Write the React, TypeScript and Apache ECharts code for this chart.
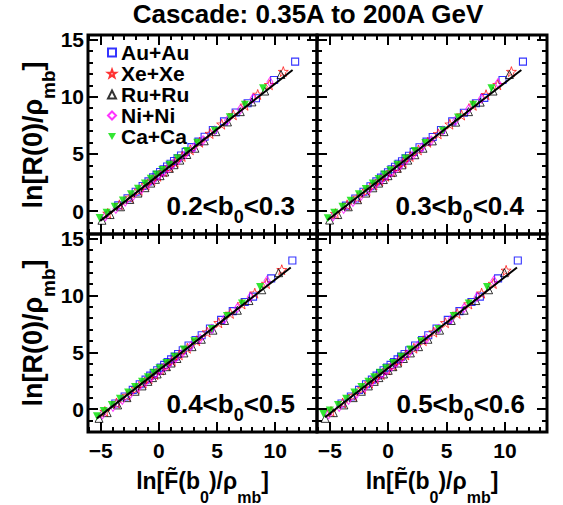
import React, { useEffect, useRef } from 'react';
import * as echarts from 'echarts';

const FONT = '"Liberation Sans", Arial, Helvetica, sans-serif';

const systems = ['Au+Au', 'Xe+Xe', 'Ru+Ru', 'Ni+Ni', 'Ca+Ca'];
const bRanges = [['0.2', '0.3'], ['0.3', '0.4'], ['0.4', '0.5'], ['0.5', '0.6']];

const xMajorTicks = [-5, 0, 5, 10];
const xMinorTicks = [-6, -4, -3, -2, -1, 1, 2, 3, 4, 6, 7, 8, 9, 11, 12, 13];
const yMajorTicks = [0, 5, 10, 15];
const yMinorTicks = [-1, 1, 2, 3, 4, 6, 7, 8, 9, 11, 12, 13, 14];
const X_MIN = -6.1, X_MAX = 13.6, Y_MIN = -2, Y_MAX = 15.4;

// Panel 1: 0.2<b0<0.3
const p1Au = [[-3.5,0.5],[-2.7,1.12],[-2.0,1.7],[-1.4,2.2],[-0.9,2.6],[-0.5,2.95],[-0.2,3.18],[0.1,3.42],[0.4,3.66],[0.7,3.9],[1.0,4.14],[1.3,4.38],[1.6,4.62],[1.9,4.86],[2.3,5.18],[2.8,5.6],[3.4,6.08],[3.93,6.5],[4.64,7.1],[5.6,7.85],[6.6,8.62],[7.63,9.43],[8.35,9.87],[9.91,11.47],[11.72,13.07]];
const p1Xe = [[-4.4,-0.2],[-3.4,0.55],[-2.5,1.2],[-1.7,1.82],[-1.1,2.3],[-0.6,2.68],[-0.1,3.05],[0.4,3.45],[0.9,3.85],[1.4,4.27],[2.0,4.78],[2.7,5.36],[3.5,6.02],[4.4,6.78],[5.4,7.6],[6.4,8.42],[7.4,9.25],[8.5,10.2],[9.5,11.05],[10.7,12.2]];
const p1Ru = [[-4.9,-0.8],[-4.2,-0.3],[-3.3,0.38],[-2.5,1.02],[-1.8,1.58],[-1.2,2.05],[-0.7,2.45],[-0.3,2.78],[0.1,3.1],[0.5,3.42],[0.9,3.74],[1.3,4.06],[1.8,4.46],[2.4,4.95],[3.1,5.5],[3.9,6.15],[4.9,6.95],[5.9,7.8],[7.0,8.7],[8.0,9.55],[9.1,10.5],[10.5,11.95]];
const p1Ni = [[-4.6,-0.45],[-3.7,0.2],[-2.9,0.82],[-2.2,1.36],[-1.5,1.92],[-0.9,2.4],[-0.4,2.8],[0.0,3.12],[0.4,3.44],[0.8,3.76],[1.2,4.08],[1.7,4.5],[2.3,4.98],[3.0,5.55],[3.8,6.2],[4.8,7.05],[5.9,7.95],[7.0,8.9],[8.1,9.85],[9.55,11.3]];
const p1Ca = [[-5.1,-0.6],[-4.5,-0.15],[-3.8,0.38],[-3.1,0.92],[-2.4,1.48],[-1.8,1.95],[-1.2,2.42],[-0.7,2.82],[-0.2,3.2],[0.3,3.6],[0.9,4.06],[1.6,4.62],[2.4,5.25],[3.3,5.98],[4.8,7.05],[6.1,8.2],[7.4,9.3],[8.96,10.75]];
const p1Fit = [[-5.05,-0.85],[11.5,12.34]];

// Panel 2: 0.3<b0<0.4
const p2Au = [[-3.62,0.48],[-2.82,1.1],[-2.12,1.7],[-1.52,2.18],[-1.02,2.6],[-0.62,2.93],[-0.32,3.18],[-0.02,3.4],[0.28,3.66],[0.58,3.88],[0.88,4.14],[1.18,4.36],[1.48,4.62],[1.78,4.84],[2.18,5.18],[2.68,5.58],[3.28,6.08],[3.81,6.48],[4.52,7.1],[5.48,7.85],[6.48,8.6],[7.51,9.43],[8.23,9.9],[9.79,11.47],[11.54,13.07]];
const p2Xe = [[-4.52,-0.22],[-3.52,0.55],[-2.62,1.2],[-1.82,1.8],[-1.22,2.3],[-0.72,2.66],[-0.22,3.05],[0.28,3.44],[0.78,3.85],[1.28,4.25],[1.88,4.78],[2.58,5.35],[3.38,6.02],[4.28,6.76],[5.28,7.6],[6.28,8.4],[7.28,9.25],[8.38,10.18],[9.38,11.05],[10.55,12.2]];
const p2Ru = [[-5.02,-0.78],[-4.32,-0.3],[-3.42,0.38],[-2.62,1.0],[-1.92,1.58],[-1.32,2.04],[-0.82,2.45],[-0.42,2.76],[-0.02,3.1],[0.38,3.4],[0.78,3.74],[1.18,4.05],[1.68,4.46],[2.28,4.93],[2.98,5.5],[3.78,6.14],[4.78,6.95],[5.78,7.78],[6.88,8.7],[7.88,9.53],[8.98,10.5],[10.38,11.95]];
const p2Ni = [[-4.72,-0.45],[-3.82,0.2],[-3.02,0.8],[-2.32,1.36],[-1.62,1.9],[-1.02,2.4],[-0.52,2.78],[-0.12,3.12],[0.28,3.42],[0.68,3.76],[1.08,4.06],[1.58,4.5],[2.18,4.96],[2.88,5.55],[3.68,6.18],[4.68,7.05],[5.78,7.93],[6.88,8.9],[7.98,9.83],[9.4,11.2]];
const p2Ca = [[-5.18,-0.62],[-4.62,-0.15],[-3.92,0.38],[-3.22,0.9],[-2.52,1.48],[-1.92,1.94],[-1.32,2.42],[-0.82,2.8],[-0.32,3.2],[0.18,3.58],[0.78,4.06],[1.48,4.6],[2.28,5.25],[3.18,5.96],[4.68,7.05],[5.98,8.18],[7.28,9.3],[8.84,10.75]];
const p2Fit = [[-5.18,-0.77],[11.4,12.34]];

// Panel 3: 0.4<b0<0.5
const p3Au = [[-3.75,0.5],[-2.95,1.12],[-2.25,1.7],[-1.65,2.2],[-1.15,2.6],[-0.75,2.95],[-0.45,3.18],[-0.15,3.42],[0.15,3.66],[0.45,3.9],[0.75,4.14],[1.05,4.38],[1.35,4.62],[1.65,4.86],[2.05,5.18],[2.55,5.6],[3.15,6.08],[3.68,6.5],[4.39,7.1],[5.35,7.85],[6.35,8.62],[7.38,9.43],[8.1,9.9],[9.66,11.5],[11.48,13.07]];
const p3Xe = [[-4.65,-0.2],[-3.65,0.55],[-2.75,1.2],[-1.95,1.82],[-1.35,2.3],[-0.85,2.68],[-0.35,3.05],[0.15,3.45],[0.65,3.85],[1.15,4.27],[1.75,4.78],[2.45,5.36],[3.25,6.02],[4.15,6.78],[5.15,7.6],[6.15,8.42],[7.15,9.25],[8.25,10.2],[9.25,11.05],[10.57,12.26]];
const p3Ru = [[-5.15,-0.8],[-4.45,-0.3],[-3.55,0.38],[-2.75,1.02],[-2.05,1.58],[-1.45,2.05],[-0.95,2.45],[-0.55,2.78],[-0.15,3.1],[0.25,3.42],[0.65,3.74],[1.05,4.06],[1.55,4.46],[2.15,4.95],[2.85,5.5],[3.65,6.15],[4.65,6.95],[5.65,7.8],[6.75,8.7],[7.75,9.55],[8.85,10.5],[10.3,12.0]];
const p3Ni = [[-4.85,-0.45],[-3.95,0.2],[-3.15,0.82],[-2.45,1.36],[-1.75,1.92],[-1.15,2.4],[-0.65,2.8],[-0.25,3.12],[0.15,3.44],[0.55,3.76],[0.95,4.08],[1.45,4.5],[2.05,4.98],[2.75,5.55],[3.55,6.2],[4.55,7.05],[5.65,7.95],[6.75,8.9],[7.85,9.85],[9.3,11.3]];
const p3Ca = [[-5.33,-0.62],[-4.75,-0.15],[-4.05,0.38],[-3.35,0.92],[-2.65,1.48],[-2.05,1.95],[-1.45,2.42],[-0.95,2.82],[-0.45,3.2],[0.05,3.6],[0.65,4.06],[1.35,4.62],[2.15,5.25],[3.05,5.98],[4.55,7.05],[5.85,8.2],[7.15,9.3],[8.7,10.75]];
const p3Fit = [[-5.33,-0.8],[11.34,12.46]];

// Panel 4: 0.5<b0<0.6
const p4Au = [[-4.0,0.5],[-3.2,1.12],[-2.5,1.7],[-1.9,2.2],[-1.4,2.6],[-1.0,2.95],[-0.7,3.18],[-0.4,3.42],[-0.1,3.66],[0.2,3.9],[0.5,4.14],[0.8,4.38],[1.1,4.62],[1.4,4.86],[1.8,5.18],[2.3,5.6],[2.9,6.08],[3.43,6.5],[4.14,7.1],[5.1,7.85],[6.1,8.62],[7.13,9.43],[7.85,9.9],[9.41,11.5],[11.1,13.07]];
const p4Xe = [[-4.9,-0.2],[-3.9,0.55],[-3.0,1.2],[-2.2,1.82],[-1.6,2.3],[-1.1,2.68],[-0.6,3.05],[-0.1,3.45],[0.4,3.85],[0.9,4.27],[1.5,4.78],[2.2,5.36],[3.0,6.02],[3.9,6.78],[4.9,7.6],[5.9,8.42],[6.9,9.25],[8.0,10.2],[9.0,11.05],[10.1,12.2]];
const p4Ru = [[-5.4,-0.8],[-4.7,-0.3],[-3.8,0.38],[-3.0,1.02],[-2.3,1.58],[-1.7,2.05],[-1.2,2.45],[-0.8,2.78],[-0.4,3.1],[0.0,3.42],[0.4,3.74],[0.8,4.06],[1.3,4.46],[1.9,4.95],[2.6,5.5],[3.4,6.15],[4.4,6.95],[5.4,7.8],[6.5,8.7],[7.5,9.55],[8.6,10.5],[9.95,12.0]];
const p4Ni = [[-5.1,-0.45],[-4.2,0.2],[-3.4,0.82],[-2.7,1.36],[-2.0,1.92],[-1.4,2.4],[-0.9,2.8],[-0.5,3.12],[-0.1,3.44],[0.3,3.76],[0.7,4.08],[1.2,4.5],[1.8,4.98],[2.5,5.55],[3.3,6.2],[4.3,7.05],[5.4,7.95],[6.5,8.9],[7.6,9.85],[9.05,11.3]];
const p4Ca = [[-5.55,-0.42],[-5.0,-0.1],[-4.3,0.38],[-3.6,0.92],[-2.9,1.48],[-2.3,1.95],[-1.7,2.42],[-1.2,2.82],[-0.7,3.2],[-0.2,3.6],[0.4,4.06],[1.1,4.62],[1.9,5.25],[2.8,5.98],[4.3,7.05],[5.6,8.2],[6.9,9.3],[8.46,10.75]];
const p4Fit = [[-5.41,-0.71],[11.03,12.46]];

const panelData = [
  [p1Au, p1Xe, p1Ru, p1Ni, p1Ca],
  [p2Au, p2Xe, p2Ru, p2Ni, p2Ca],
  [p3Au, p3Xe, p3Ru, p3Ni, p3Ca],
  [p4Au, p4Xe, p4Ru, p4Ni, p4Ca],
];
const panelFits = [p1Fit, p2Fit, p3Fit, p4Fit];

// ---------- styles / layout ----------
const STAR = 'path://M0,-10L2.35,-3.24L9.51,-3.09L3.8,1.24L5.88,8.09L0,4L-5.88,8.09L-3.8,1.24L-9.51,-3.09L-2.35,-3.24Z';
const INV_TRI = 'path://M-5,-4.3L5,-4.3L0,4.3Z';
const markerStyles: any[] = [
  { symbol: 'rect', size: 7, color: '#0000ff', filled: false, bw: 1.1 },
  { symbol: STAR, size: 10, color: '#ff0000', filled: false, bw: 0.9 },
  { symbol: 'triangle', size: 8, color: '#000000', filled: false, bw: 1 },
  { symbol: 'diamond', size: [6, 9], color: '#ff00ff', filled: false, bw: 1 },
  { symbol: INV_TRI, size: 8, color: '#00e000', filled: true, bw: 0 },
];
const gridRects = [
  { left: 88, top: 35, width: 229, height: 199 },
  { left: 317, top: 35, width: 230, height: 199 },
  { left: 88, top: 234, width: 229, height: 198 },
  { left: 317, top: 234, width: 230, height: 198 },
];

const fmt = (v: number) => (v < 0 ? '\u2212' + Math.abs(v) : String(v));

function makeAxis(kind: 'x' | 'y', g: number, pos: string, major: boolean, label: boolean) {
  const isX = kind === 'x';
  const maj = isX ? xMajorTicks : yMajorTicks;
  const min = isX ? xMinorTicks : yMinorTicks;
  return {
    type: 'value',
    gridIndex: g,
    position: pos,
    min: isX ? X_MIN : Y_MIN,
    max: isX ? X_MAX : Y_MAX,
    axisLine: { show: false, onZero: false },
    splitLine: { show: false },
    axisTick: {
      show: true,
      inside: true,
      length: major ? 10 : 5,
      customValues: major ? maj : min,
      lineStyle: { color: '#000', width: 2 },
    },
    axisLabel: label
      ? {
          show: true,
          customValues: maj,
          formatter: fmt,
          fontSize: 21,
          fontWeight: 'bold',
          fontFamily: FONT,
          color: '#000',
          margin: isX ? 8 : 4,
          padding: isX ? 0 : [10, 0, 0, 0],
        }
      : { show: false },
  };
}

export default function App() {
  const ref = useRef<HTMLDivElement>(null);
  useEffect(() => {
    if (!ref.current) return;
    const chart = echarts.init(ref.current, undefined, { renderer: 'svg' });

    const xAxes: any[] = [];
    const yAxes: any[] = [];
    const series: any[] = [];
    for (let g = 0; g < 4; g++) {
      xAxes.push(makeAxis('x', g, 'bottom', true, g >= 2));
      xAxes.push(makeAxis('x', g, 'bottom', false, false));
      xAxes.push(makeAxis('x', g, 'top', true, false));
      xAxes.push(makeAxis('x', g, 'top', false, false));
      yAxes.push(makeAxis('y', g, 'left', true, g % 2 === 0));
      yAxes.push(makeAxis('y', g, 'left', false, false));
      yAxes.push(makeAxis('y', g, 'right', true, false));
      yAxes.push(makeAxis('y', g, 'right', false, false));

      systems.forEach((name, s) => {
        const st = markerStyles[s];
        series.push({
          type: 'scatter',
          name,
          xAxisIndex: g * 4,
          yAxisIndex: g * 4,
          data: panelData[g][s],
          symbol: st.symbol,
          symbolSize: st.size,
          itemStyle: st.filled
            ? { color: st.color }
            : { color: 'rgba(0,0,0,0)', borderColor: st.color, borderWidth: st.bw },
          z: 3,
          silent: true,
        });
      });
      series.push({
        type: 'line',
        xAxisIndex: g * 4,
        yAxisIndex: g * 4,
        data: panelFits[g],
        symbol: 'none',
        lineStyle: { color: '#000', width: 2 },
        z: 5,
        silent: true,
      });
    }

    const mainRich = (size: number, lh: number) => ({
      fontSize: size, fontWeight: 'bold', fontFamily: FONT, fill: '#000', lineHeight: lh, verticalAlign: 'top',
    });
    const subRich = (size: number, pad: number) => ({
      fontSize: size, fontWeight: 'bold', fontFamily: FONT, fill: '#000', lineHeight: size, verticalAlign: 'top', padding: [pad, 0, 0, 0],
    });

    const labelPos = [
      { x: 295, y: 206.5 },
      { x: 524, y: 206.5 },
      { x: 295, y: 404.5 },
      { x: 525, y: 404.5 },
    ];
    const graphics: any[] = [
      {
        type: 'text', x: 308, y: 14,
        style: { text: 'Cascade: 0.35A to 200A GeV', fontSize: 26, fontWeight: 'bold', fontFamily: FONT, fill: '#000', align: 'center', verticalAlign: 'middle' },
      },
    ];
    bRanges.forEach((r, g) => {
      graphics.push({
        type: 'text', x: labelPos[g].x, y: labelPos[g].y,
        style: {
          text: `{a|${r[0]}<b}{s|0}{a|<${r[1]}}`,
          align: 'right', verticalAlign: 'middle',
          rich: { a: mainRich(26, 28), s: subRich(18, 15) },
        },
      });
    });
    [135, 333].forEach((cy) => {
      graphics.push({
        type: 'text', x: 33, y: cy, rotation: Math.PI / 2,
        style: {
          text: '{a|ln[R(0)/\u03c1}{s|mb}{a|]}',
          align: 'center', verticalAlign: 'middle',
          rich: { a: mainRich(27, 28), s: subRich(19, 20) },
        },
      });
    });
    [202.5, 432].forEach((cx) => {
      graphics.push({
        type: 'text', x: cx, y: 481,
        style: {
          text: '{a|ln[F\u0303(b}{s|0}{a|)/\u03c1}{s|mb}{a|]}',
          align: 'center', verticalAlign: 'middle',
          rich: { a: mainRich(23, 24), s: subRich(16, 20) },
        },
      });
    });

    chart.setOption({
      animation: false,
      backgroundColor: '#fff',
      grid: gridRects.map((r) => ({ ...r, show: true, borderColor: '#000', borderWidth: 3, backgroundColor: 'transparent', containLabel: false })),
      xAxis: xAxes,
      yAxis: yAxes,
      legend: {
        data: systems,
        orient: 'vertical',
        left: 107,
        top: 42,
        itemWidth: 8,
        itemHeight: 8,
        itemGap: 0,
        padding: 0,
        selectedMode: false,
        textStyle: { fontSize: 21, fontWeight: 'bold', fontFamily: FONT, color: '#000', lineHeight: 20 },
      },
      series,
      graphic: graphics,
    });
    return () => chart.dispose();
  }, []);
  return <div ref={ref} style={{ position: 'absolute', left: 0, top: 0, width: 563, height: 505 }} />;
}
